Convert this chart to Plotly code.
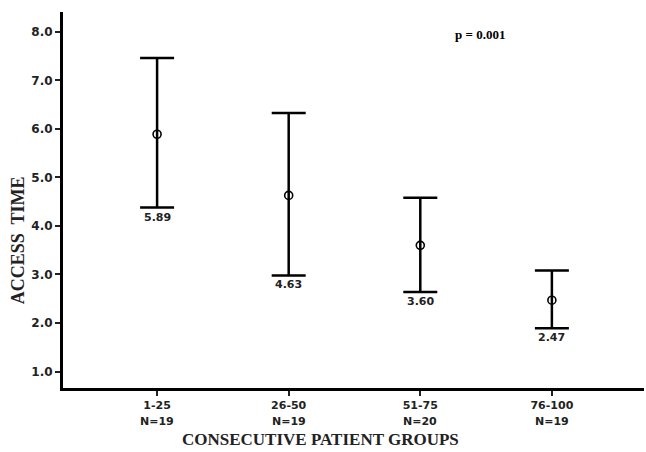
import plotly.graph_objects as go

groups = ["1-25", "26-50", "51-75", "76-100"]
n_counts = [19, 19, 20, 19]
means = [5.89, 4.63, 3.60, 2.47]
upper = [7.46, 6.33, 4.58, 3.08]
lower = [4.38, 2.98, 2.64, 1.89]
y_ticks = [1.0, 2.0, 3.0, 4.0, 5.0, 6.0, 7.0, 8.0]

err_plus = [u - m for u, m in zip(upper, means)]
err_minus = [m - l for m, l in zip(means, lower)]

sans = "DejaVu Sans"
serif = "Liberation Serif"

fig = go.Figure()
fig.add_trace(go.Scatter(
    x=groups, y=means, mode="markers",
    marker=dict(symbol="circle-open", size=8, color="black", line=dict(width=1.6, color="black")),
    error_y=dict(type="data", symmetric=False, array=err_plus, arrayminus=err_minus,
                 color="black", thickness=2.5, width=17),
    showlegend=False, hoverinfo="skip",
))

for g, lo, m in zip(groups, lower, means):
    fig.add_annotation(x=g, y=lo, xref="x", yref="y", text=f"{m:.2f}", showarrow=False,
                       xanchor="center", yanchor="top", yshift=-1,
                       font=dict(family=sans, size=11, color="#222", weight="bold"))

for g, n in zip(groups, n_counts):
    fig.add_annotation(x=g, y=0, xref="x", yref="paper", text=f"N={n}", showarrow=False,
                       xanchor="center", yanchor="middle", yshift=-33,
                       font=dict(family=sans, size=11, color="#222", weight="bold"))

fig.add_annotation(text="p = 0.001", xref="paper", yref="paper", x=0.718, y=0.939,
                   showarrow=False, xanchor="center", yanchor="middle",
                   font=dict(family=serif, size=13, color="black", weight="bold"))
fig.add_annotation(text="ACCESS  TIME", xref="paper", yref="paper", x=-0.078, y=0.392,
                   textangle=-90, showarrow=False, xanchor="center", yanchor="middle",
                   font=dict(family=serif, size=18, color="#222", weight="bold"))
fig.add_annotation(text="CONSECUTIVE PATIENT GROUPS", xref="paper", yref="paper", x=0.443, y=-0.137,
                   showarrow=False, xanchor="center", yanchor="middle",
                   font=dict(family=serif, size=17, color="#222", weight="bold"))

fig.update_xaxes(
    type="category", categoryorder="array", categoryarray=groups,
    range=[-0.715, 3.70],
    tickvals=groups, ticktext=groups,
    showline=True, linecolor="black", linewidth=3,
    ticks="outside", ticklen=5, tickwidth=2, tickcolor="#222",
    showgrid=False, zeroline=False,
    tickfont=dict(family=sans, size=11, color="#222", weight="bold"),
)
fig.update_yaxes(
    range=[0.66, 8.41],
    tickvals=y_ticks, ticktext=[f"{v:.1f}" for v in y_ticks],
    showline=True, linecolor="black", linewidth=3,
    ticks="outside", ticklen=5, tickwidth=2, tickcolor="#222",
    showgrid=False, zeroline=False,
    tickfont=dict(family=sans, size=12, color="#222", weight="bold"),
)
fig.update_layout(
    width=646, height=452,
    margin=dict(l=62.5, r=2, t=12, b=63.5, autoexpand=False),
    plot_bgcolor="white", paper_bgcolor="white",
)
fig.write_html("out.html", config={"displayModeBar": False},
               post_script="document.body.style.margin='0';document.body.style.overflow='hidden';")
